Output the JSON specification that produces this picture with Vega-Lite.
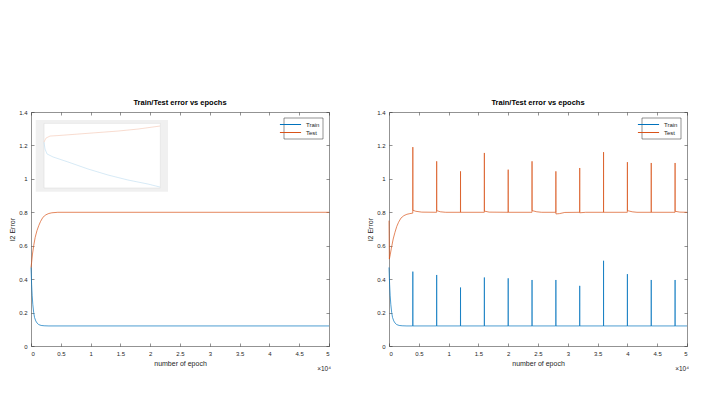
{
  "$schema": "https://vega.github.io/schema/vega-lite/v6.json",
  "padding": {"left": 8, "top": 98, "right": 0, "bottom": 0},
  "background": "white",
  "datasets": {
    "left": [
      {"epoch": 0, "error": 0.47, "series": "Train"},
      {"epoch": 100, "error": 0.37, "series": "Train"},
      {"epoch": 200, "error": 0.30, "series": "Train"},
      {"epoch": 300, "error": 0.25, "series": "Train"},
      {"epoch": 450, "error": 0.20, "series": "Train"},
      {"epoch": 600, "error": 0.17, "series": "Train"},
      {"epoch": 800, "error": 0.15, "series": "Train"},
      {"epoch": 1000, "error": 0.138, "series": "Train"},
      {"epoch": 1300, "error": 0.128, "series": "Train"},
      {"epoch": 1700, "error": 0.123, "series": "Train"},
      {"epoch": 2200, "error": 0.121, "series": "Train"},
      {"epoch": 3000, "error": 0.12, "series": "Train"},
      {"epoch": 50000, "error": 0.12, "series": "Train"},
      {"epoch": 0, "error": 0.47, "series": "Test"},
      {"epoch": 100, "error": 0.50, "series": "Test"},
      {"epoch": 250, "error": 0.55, "series": "Test"},
      {"epoch": 450, "error": 0.60, "series": "Test"},
      {"epoch": 700, "error": 0.65, "series": "Test"},
      {"epoch": 1000, "error": 0.69, "series": "Test"},
      {"epoch": 1300, "error": 0.72, "series": "Test"},
      {"epoch": 1600, "error": 0.745, "series": "Test"},
      {"epoch": 2000, "error": 0.77, "series": "Test"},
      {"epoch": 2500, "error": 0.785, "series": "Test"},
      {"epoch": 3000, "error": 0.793, "series": "Test"},
      {"epoch": 3500, "error": 0.797, "series": "Test"},
      {"epoch": 4500, "error": 0.8, "series": "Test"},
      {"epoch": 50000, "error": 0.8, "series": "Test"}
    ],
    "right": [
      {"epoch": 0, "error": 0.47, "series": "Train"},
      {"epoch": 100, "error": 0.37, "series": "Train"},
      {"epoch": 200, "error": 0.30, "series": "Train"},
      {"epoch": 300, "error": 0.25, "series": "Train"},
      {"epoch": 450, "error": 0.20, "series": "Train"},
      {"epoch": 600, "error": 0.17, "series": "Train"},
      {"epoch": 800, "error": 0.15, "series": "Train"},
      {"epoch": 1000, "error": 0.138, "series": "Train"},
      {"epoch": 1300, "error": 0.128, "series": "Train"},
      {"epoch": 1700, "error": 0.123, "series": "Train"},
      {"epoch": 2200, "error": 0.121, "series": "Train"},
      {"epoch": 3000, "error": 0.12, "series": "Train"},
      {"epoch": 3990, "error": 0.12, "series": "Train"},
      {"epoch": 4000, "error": 0.445, "series": "Train"},
      {"epoch": 4010, "error": 0.12, "series": "Train"},
      {"epoch": 7990, "error": 0.12, "series": "Train"},
      {"epoch": 8000, "error": 0.425, "series": "Train"},
      {"epoch": 8010, "error": 0.12, "series": "Train"},
      {"epoch": 11990, "error": 0.12, "series": "Train"},
      {"epoch": 12000, "error": 0.35, "series": "Train"},
      {"epoch": 12010, "error": 0.12, "series": "Train"},
      {"epoch": 15990, "error": 0.12, "series": "Train"},
      {"epoch": 16000, "error": 0.41, "series": "Train"},
      {"epoch": 16010, "error": 0.12, "series": "Train"},
      {"epoch": 19990, "error": 0.12, "series": "Train"},
      {"epoch": 20000, "error": 0.405, "series": "Train"},
      {"epoch": 20010, "error": 0.12, "series": "Train"},
      {"epoch": 23990, "error": 0.12, "series": "Train"},
      {"epoch": 24000, "error": 0.395, "series": "Train"},
      {"epoch": 24010, "error": 0.12, "series": "Train"},
      {"epoch": 27990, "error": 0.12, "series": "Train"},
      {"epoch": 28000, "error": 0.395, "series": "Train"},
      {"epoch": 28010, "error": 0.12, "series": "Train"},
      {"epoch": 31990, "error": 0.12, "series": "Train"},
      {"epoch": 32000, "error": 0.36, "series": "Train"},
      {"epoch": 32010, "error": 0.12, "series": "Train"},
      {"epoch": 35990, "error": 0.12, "series": "Train"},
      {"epoch": 36000, "error": 0.51, "series": "Train"},
      {"epoch": 36010, "error": 0.12, "series": "Train"},
      {"epoch": 39990, "error": 0.12, "series": "Train"},
      {"epoch": 40000, "error": 0.43, "series": "Train"},
      {"epoch": 40010, "error": 0.12, "series": "Train"},
      {"epoch": 43990, "error": 0.12, "series": "Train"},
      {"epoch": 44000, "error": 0.395, "series": "Train"},
      {"epoch": 44010, "error": 0.12, "series": "Train"},
      {"epoch": 47990, "error": 0.12, "series": "Train"},
      {"epoch": 48000, "error": 0.395, "series": "Train"},
      {"epoch": 48010, "error": 0.12, "series": "Train"},
      {"epoch": 50000, "error": 0.12, "series": "Train"},
      {"epoch": 0, "error": 0.75, "series": "Test"},
      {"epoch": 60, "error": 0.52, "series": "Test"},
      {"epoch": 200, "error": 0.545, "series": "Test"},
      {"epoch": 400, "error": 0.585, "series": "Test"},
      {"epoch": 700, "error": 0.64, "series": "Test"},
      {"epoch": 1000, "error": 0.68, "series": "Test"},
      {"epoch": 1300, "error": 0.715, "series": "Test"},
      {"epoch": 1600, "error": 0.74, "series": "Test"},
      {"epoch": 2000, "error": 0.765, "series": "Test"},
      {"epoch": 2500, "error": 0.78, "series": "Test"},
      {"epoch": 3000, "error": 0.788, "series": "Test"},
      {"epoch": 3500, "error": 0.792, "series": "Test"},
      {"epoch": 3990, "error": 0.795, "series": "Test"},
      {"epoch": 4000, "error": 1.19, "series": "Test"},
      {"epoch": 4010, "error": 0.812, "series": "Test"},
      {"epoch": 4500, "error": 0.806, "series": "Test"},
      {"epoch": 5500, "error": 0.801, "series": "Test"},
      {"epoch": 7990, "error": 0.8, "series": "Test"},
      {"epoch": 8000, "error": 1.105, "series": "Test"},
      {"epoch": 8010, "error": 0.81, "series": "Test"},
      {"epoch": 8600, "error": 0.803, "series": "Test"},
      {"epoch": 9500, "error": 0.8, "series": "Test"},
      {"epoch": 11990, "error": 0.8, "series": "Test"},
      {"epoch": 12000, "error": 1.045, "series": "Test"},
      {"epoch": 12010, "error": 0.8, "series": "Test"},
      {"epoch": 15990, "error": 0.8, "series": "Test"},
      {"epoch": 16000, "error": 1.155, "series": "Test"},
      {"epoch": 16010, "error": 0.807, "series": "Test"},
      {"epoch": 16800, "error": 0.801, "series": "Test"},
      {"epoch": 19990, "error": 0.8, "series": "Test"},
      {"epoch": 20000, "error": 1.055, "series": "Test"},
      {"epoch": 20010, "error": 0.8, "series": "Test"},
      {"epoch": 23990, "error": 0.8, "series": "Test"},
      {"epoch": 24000, "error": 1.105, "series": "Test"},
      {"epoch": 24010, "error": 0.81, "series": "Test"},
      {"epoch": 24800, "error": 0.803, "series": "Test"},
      {"epoch": 25600, "error": 0.8, "series": "Test"},
      {"epoch": 27990, "error": 0.8, "series": "Test"},
      {"epoch": 28000, "error": 1.045, "series": "Test"},
      {"epoch": 28010, "error": 0.79, "series": "Test"},
      {"epoch": 28600, "error": 0.792, "series": "Test"},
      {"epoch": 29500, "error": 0.799, "series": "Test"},
      {"epoch": 31990, "error": 0.8, "series": "Test"},
      {"epoch": 32000, "error": 1.065, "series": "Test"},
      {"epoch": 32010, "error": 0.797, "series": "Test"},
      {"epoch": 33000, "error": 0.8, "series": "Test"},
      {"epoch": 35990, "error": 0.8, "series": "Test"},
      {"epoch": 36000, "error": 1.16, "series": "Test"},
      {"epoch": 36010, "error": 0.8, "series": "Test"},
      {"epoch": 39990, "error": 0.8, "series": "Test"},
      {"epoch": 40000, "error": 1.1, "series": "Test"},
      {"epoch": 40010, "error": 0.81, "series": "Test"},
      {"epoch": 40800, "error": 0.803, "series": "Test"},
      {"epoch": 41600, "error": 0.8, "series": "Test"},
      {"epoch": 43990, "error": 0.8, "series": "Test"},
      {"epoch": 44000, "error": 1.095, "series": "Test"},
      {"epoch": 44010, "error": 0.8, "series": "Test"},
      {"epoch": 47990, "error": 0.8, "series": "Test"},
      {"epoch": 48000, "error": 1.095, "series": "Test"},
      {"epoch": 48010, "error": 0.806, "series": "Test"},
      {"epoch": 48800, "error": 0.801, "series": "Test"},
      {"epoch": 50000, "error": 0.8, "series": "Test"}
    ],
    "insetBox": [
      {"part": "frame", "x1": 789, "x2": 22990, "y1": 0.923, "y2": 1.352},
      {"part": "plot", "x1": 2181, "x2": 21697, "y1": 0.945, "y2": 1.332}
    ],
    "insetLines": [
      {"epoch": 2181, "error": 1.22, "series": "Test"},
      {"epoch": 2517, "error": 1.244, "series": "Test"},
      {"epoch": 3188, "error": 1.256, "series": "Test"},
      {"epoch": 4530, "error": 1.259, "series": "Test"},
      {"epoch": 7887, "error": 1.268, "series": "Test"},
      {"epoch": 11243, "error": 1.277, "series": "Test"},
      {"epoch": 14600, "error": 1.286, "series": "Test"},
      {"epoch": 17956, "error": 1.298, "series": "Test"},
      {"epoch": 21647, "error": 1.316, "series": "Test"},
      {"epoch": 2181, "error": 1.22, "series": "Train"},
      {"epoch": 2349, "error": 1.179, "series": "Train"},
      {"epoch": 2685, "error": 1.149, "series": "Train"},
      {"epoch": 3692, "error": 1.131, "series": "Train"},
      {"epoch": 6209, "error": 1.101, "series": "Train"},
      {"epoch": 9565, "error": 1.059, "series": "Train"},
      {"epoch": 12921, "error": 1.023, "series": "Train"},
      {"epoch": 16276, "error": 0.993, "series": "Train"},
      {"epoch": 19633, "error": 0.969, "series": "Train"},
      {"epoch": 21647, "error": 0.951, "series": "Train"}
    ],
    "exponent": [
      {"epoch": 50000, "error": 0, "label": "×10⁴"}
    ]
  },
  "hconcat": [
    {
      "width": 298,
      "height": 234,
      "title": {"text": "Train/Test error vs epochs"},
      "layer": [
        {
          "data": {"name": "insetBox"},
          "transform": [{"filter": "datum.part === 'frame'"}],
          "mark": {"type": "rect", "color": "#f0f0f0"},
          "encoding": {
            "x": {"field": "x1", "type": "quantitative", "axis": null, "scale": {"domain": [0, 50000], "nice": false}},
            "x2": {"field": "x2"},
            "y": {"field": "y1", "type": "quantitative", "axis": null, "scale": {"domain": [0, 1.4], "nice": false}},
            "y2": {"field": "y2"}
          }
        },
        {
          "data": {"name": "insetBox"},
          "transform": [{"filter": "datum.part === 'plot'"}],
          "mark": {"type": "rect", "color": "white", "stroke": "#d9d9d9", "strokeWidth": 0.5},
          "encoding": {
            "x": {"field": "x1", "type": "quantitative", "axis": null},
            "x2": {"field": "x2"},
            "y": {"field": "y1", "type": "quantitative", "axis": null},
            "y2": {"field": "y2"}
          }
        },
        {
          "data": {"name": "insetLines"},
          "transform": [{"filter": "datum.series === 'Test'"}],
          "mark": {"type": "line", "color": "#f5cdbb", "strokeWidth": 0.7},
          "encoding": {
            "x": {"field": "epoch", "type": "quantitative", "axis": null},
            "y": {"field": "error", "type": "quantitative", "axis": null}
          }
        },
        {
          "data": {"name": "insetLines"},
          "transform": [{"filter": "datum.series === 'Train'"}],
          "mark": {"type": "line", "color": "#c6e1f2", "strokeWidth": 0.7},
          "encoding": {
            "x": {"field": "epoch", "type": "quantitative", "axis": null},
            "y": {"field": "error", "type": "quantitative", "axis": null}
          }
        },
        {
          "data": {"name": "left"},
          "mark": {"type": "line", "strokeWidth": 0.7},
          "encoding": {
            "x": {"field": "epoch", "type": "quantitative", "title": "number of epoch",
                  "axis": {"orient": "bottom", "values": [0,5000,10000,15000,20000,25000,30000,35000,40000,45000,50000], "labelExpr": "datum.value / 10000"}},
            "y": {"field": "error", "type": "quantitative", "title": "l2 Error",
                  "axis": {"orient": "left", "values": [0,0.2,0.4,0.6,0.8,1,1.2,1.4], "format": "~g"}},
            "color": {"field": "series", "type": "nominal", "sort": null,
                      "scale": {"domain": ["Train", "Test"], "range": ["#0072BD", "#D95319"]}},
            "order": {"field": "epoch", "type": "quantitative"}
          }
        },
        {
          "data": {"name": "exponent"},
          "mark": {"type": "text", "align": "right", "baseline": "alphabetic", "dx": 2, "dy": 25, "fontSize": 6.5, "color": "#262626"},
          "encoding": {
            "x": {"field": "epoch", "type": "quantitative", "axis": {"orient": "top", "values": [0,5000,10000,15000,20000,25000,30000,35000,40000,45000,50000], "labels": false, "title": null}},
            "y": {"field": "error", "type": "quantitative", "axis": {"orient": "right", "values": [0,0.2,0.4,0.6,0.8,1,1.2,1.4], "labels": false, "title": null}},
            "text": {"field": "label"}
          }
        }
      ],
      "resolve": {"axis": {"x": "independent", "y": "independent"}}
    },
    {
      "width": 298,
      "height": 234,
      "title": {"text": "Train/Test error vs epochs"},
      "layer": [
        {
          "data": {"name": "right"},
          "mark": {"type": "line", "strokeWidth": 0.7},
          "encoding": {
            "x": {"field": "epoch", "type": "quantitative", "title": "number of epoch",
                  "scale": {"domain": [0, 50000], "nice": false},
                  "axis": {"orient": "bottom", "values": [0,5000,10000,15000,20000,25000,30000,35000,40000,45000,50000], "labelExpr": "datum.value / 10000"}},
            "y": {"field": "error", "type": "quantitative", "title": "l2 Error",
                  "scale": {"domain": [0, 1.4], "nice": false},
                  "axis": {"orient": "left", "values": [0,0.2,0.4,0.6,0.8,1,1.2,1.4], "format": "~g"}},
            "color": {"field": "series", "type": "nominal", "sort": null,
                      "scale": {"domain": ["Train", "Test"], "range": ["#0072BD", "#D95319"]}},
            "order": {"field": "epoch", "type": "quantitative"}
          }
        },
        {
          "data": {"name": "exponent"},
          "mark": {"type": "text", "align": "right", "baseline": "alphabetic", "dx": 2, "dy": 25, "fontSize": 6.5, "color": "#262626"},
          "encoding": {
            "x": {"field": "epoch", "type": "quantitative", "axis": {"orient": "top", "values": [0,5000,10000,15000,20000,25000,30000,35000,40000,45000,50000], "labels": false, "title": null}},
            "y": {"field": "error", "type": "quantitative", "axis": {"orient": "right", "values": [0,0.2,0.4,0.6,0.8,1,1.2,1.4], "labels": false, "title": null}},
            "text": {"field": "label"}
          }
        }
      ],
      "resolve": {"axis": {"x": "independent", "y": "independent"}}
    }
  ],
  "spacing": 35,
  "resolve": {"legend": {"color": "independent"}, "scale": {"color": "independent"}},
  "config": {
    "font": "Liberation Sans",
    "view": {"stroke": null},
    "title": {"fontSize": 7.5, "fontWeight": "bold", "color": "#000000", "offset": 3, "anchor": "middle"},
    "axis": {
      "grid": false,
      "domainColor": "#262626",
      "domainWidth": 0.5,
      "tickColor": "#262626",
      "tickWidth": 0.5,
      "tickSize": -3,
      "labelColor": "#262626",
      "labelFontSize": 6,
      "labelPadding": 7,
      "titleColor": "#262626",
      "titleFontSize": 7,
      "titleFontWeight": "normal",
      "titlePadding": 3
    },
    "legend": {
      "orient": "top-right",
      "offset": 6,
      "title": null,
      "strokeColor": "#262626",
      "strokeWidth": 0.5,
      "fillColor": "white",
      "padding": 3,
      "symbolType": "M-4,0H4",
      "symbolSize": 28,
      "symbolStrokeWidth": 1,
      "symbolFillColor": "transparent",
      "labelFontSize": 6,
      "labelColor": "#262626",
      "labelOffset": 12,
      "rowPadding": 1
    }
  }
}
